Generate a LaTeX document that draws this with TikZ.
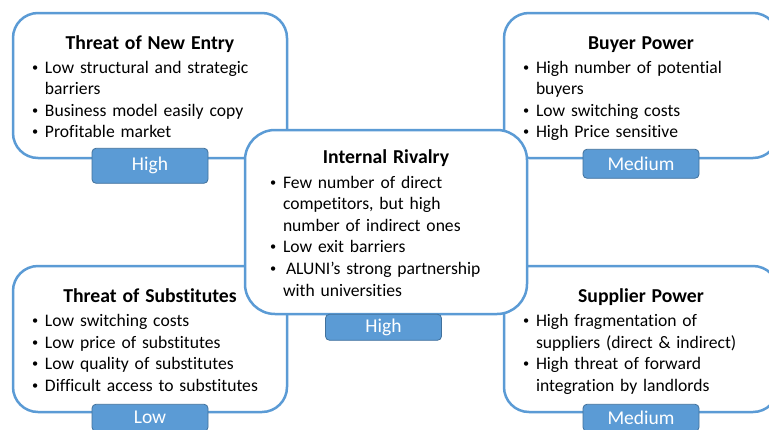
\documentclass[tikz,border=0pt]{standalone}
\usepackage{fontspec}
\setmainfont{Carlito}[Ligatures={NoCommon}]
\usetikzlibrary{shapes,arrows,positioning}
\definecolor{forceblue}{HTML}{5B9BD5}
\definecolor{leveledge}{HTML}{41719C}
\newcommand{\forcetitle}[1]{\makebox[\linewidth]{\rule{0pt}{22.5pt}\fontsize{19.7}{21.6}\selectfont\bfseries #1}\par\vspace{2.5pt}}
\newcommand{\pnt}[1]{\par\noindent\hangindent=13pt\hangafter=1\makebox[13pt][l]{\raisebox{2pt}{\scalebox{0.7}{\textbullet}}}#1\strut\par}

\begin{document}
\begin{tikzpicture}[x=1pt, y=-1pt, thick]
        \tikzstyle{force} = [rectangle, draw=forceblue, line width=2.5pt, fill=white, rounded corners=25pt, text width=236pt, inner xsep=19pt, inner ysep=0pt, font=\fontsize{17.6}{21.6}\selectfont, align=left]
        \tikzstyle{level} = [rectangle, draw=leveledge, line width=0.8pt, fill=forceblue, rounded corners=4pt, text=white, minimum width=116pt, inner sep=0pt, font=\fontsize{19.5}{20}\selectfont]

        \fill [white] (0,0) rectangle (769,429);
        \useasboundingbox (0,0) rectangle (769,429);

        % outer forces
        \node [force, minimum height=145pt] (entry) at (150,85.5) {\forcetitle{Threat of New Entry}
            \pnt{Low structural and strategic\newline barriers}
            \pnt{Business model easily copy}
            \pnt{Profitable market}};
        \node [force, minimum height=145pt] (buyer) at (641,85.5) {\forcetitle{Buyer Power}
            \pnt{High number of potential\newline buyers}
            \pnt{Low switching costs}
            \pnt{High Price sensitive}};
        \node [force, minimum height=146pt] (subst) at (150,339) {\forcetitle{Threat of Substitutes}
            \pnt{Low switching costs}
            \pnt{Low price of substitutes}
            \pnt{Low quality of substitutes}
            \pnt{Difficult access to substitutes}};
        \node [force, minimum height=146pt] (supplier) at (641,339) {\forcetitle{Supplier Power}
            \pnt{High fragmentation of\newline suppliers (direct \& indirect)}
            \pnt{High threat of forward\newline integration by landlords}};

        \node [level, minimum height=35pt] (entryLvl) at ([yshift=-6.5pt]entry.south) {High};
        \node [level, minimum height=29pt] (buyerLvl) at ([yshift=-4.5pt]buyer.south) {Medium};
        \node [level, minimum height=27pt] (substLvl) at ([yshift=-4.5pt]subst.south) {Low};
        \node [level, minimum height=27pt] (supplierLvl) at ([yshift=-4.5pt]supplier.south) {Medium};

        % centre force on top
        \node [force, minimum height=184pt, text width=232pt, inner xsep=25pt, rounded corners=30pt] (rivalry) at (386,222) {\forcetitle{Internal Rivalry}
            \pnt{Few number of direct\newline competitors, but high\newline number of indirect ones}
            \pnt{Low exit barriers}
            \pnt{\hspace{3pt}ALUNI’s strong partnership\newline with universities}};
        \node [level, minimum height=26pt] (rivalryLvl) at ([xshift=-2.5pt, yshift=-12pt]rivalry.south) {High};
    \end{tikzpicture}
\end{document}
